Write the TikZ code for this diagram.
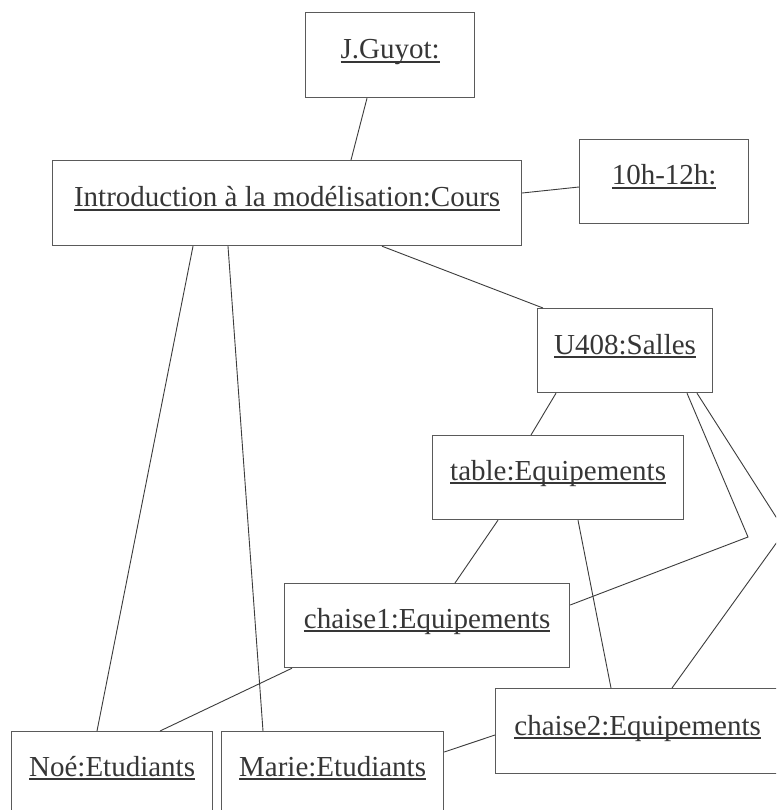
\documentclass[tikz,border=0pt]{standalone}
\usepackage{fontspec}
\setmainfont{Liberation Serif}
\usetikzlibrary{calc}
\definecolor{inkgray}{HTML}{363636}
\definecolor{framegray}{HTML}{5A5A5A}
\definecolor{linkgray}{HTML}{3C3C3C}
% underline drawn just under the baseline, through the descenders
\newcommand\ulword[1]{\setbox0=\hbox{#1}\rlap{\vrule height -1.6pt depth 3.6pt width \wd0}\box0}
\tikzset{
  objbox/.style={draw=framegray, line width=1.2pt, fill=white, rectangle,
    anchor=north west, inner sep=0pt, minimum height=85pt},
  objname/.style={anchor=base, inner sep=0pt, text=inkgray,
    font=\fontsize{29}{35}\selectfont},
  link/.style={draw=linkgray, line width=0.9pt}
}
\begin{document}
\begin{tikzpicture}[x=1pt, y=-1pt]
\useasboundingbox (0,0) rectangle (776,810);
\clip (0,0) rectangle (776,810);
\fill[white] (0,0) rectangle (776,810);

% object boxes
\node[objbox, minimum width=169pt] (guyot) at (305,12) {};
\node[objbox, minimum width=469pt] (intro) at (52,160) {};
\node[objbox, minimum width=169pt, minimum height=84pt] (hours) at (579,139) {};
\node[objbox, minimum width=175pt, minimum height=84pt] (room) at (537,308) {};
\node[objbox, minimum width=251pt, minimum height=84pt] (table) at (432,435) {};
\node[objbox, minimum width=285pt, minimum height=84pt] (chairA) at (284,583) {};
\node[objbox, minimum width=284pt] (chairB) at (495,688) {};
\node[objbox, minimum width=201pt] (noe) at (11,731) {};
\node[objbox, minimum width=222pt] (marie) at (221,731) {};

% object names
\node[objname] (guyot-t) at ($(guyot.north)+(0,47)$) {\ulword{J.Guyot:}};
\node[objname] (intro-t) at ($(intro.north)+(0,47)$) {\ulword{Introduction à la modélisation:Cours}};
\node[objname] (hours-t) at ($(hours.north)+(0,46)$) {\ulword{10h-12h:}};
\node[objname] (room-t) at ($(room.north)+(0,46)$) {\ulword{U408:Salles}};
\node[objname] (table-t) at ($(table.north)+(0,45)$) {\ulword{table:Equipements}};
\node[objname] (chairA-t) at ($(chairA.north)+(0,45)$) {\ulword{chaise1:Equipements}};
\node[objname] (chairB-t) at ($(chairB.north)+(0,47)$) {\ulword{chaise2:Equipements}};
\node[objname] (noe-t) at ($(noe.north)+(0,45)$) {\ulword{Noé:Etudiants}};
\node[objname] (marie-t) at ($(marie.north)+(0,45)$) {\ulword{Marie:Etudiants}};

% bend points of the two routed links
\coordinate (bendA) at (748,537);
\coordinate (bendB) at (785,531);

% links
\draw[link] ($(guyot.south west)+(62,0)$) -- ($(intro.north west)+(299,0)$);
\draw[link] ($(intro.north east)+(0,33)$) -- ($(hours.north west)+(0,48)$);
\draw[link] ($(intro.south west)+(330,0)$) -- ($(room.north west)+(6,0)$);
\draw[link] ($(intro.south west)+(141,0)$) -- ($(noe.north west)+(86,0)$);
\draw[link] ($(intro.south west)+(176,0)$) -- ($(marie.north west)+(42,0)$);
\draw[link] ($(room.south west)+(19,0)$) -- ($(table.north west)+(99,0)$);
\draw[link] ($(room.south west)+(150,0)$) -- (bendA) -- ($(chairA.north east)+(0,22)$);
\draw[link] ($(room.south west)+(160,0)$) -- (bendB) -- ($(chairB.north west)+(177,0)$);
\draw[link] ($(table.south west)+(66,0)$) -- ($(chairA.north west)+(171,0)$);
\draw[link] ($(table.south west)+(146,0)$) -- ($(chairB.north west)+(116,0)$);
\draw[link] ($(chairA.south west)+(8,0)$) -- ($(noe.north west)+(149,0)$);
\draw[link] ($(marie.north east)+(0,21)$) -- ($(chairB.north west)+(0,47)$);
\end{tikzpicture}
\end{document}
